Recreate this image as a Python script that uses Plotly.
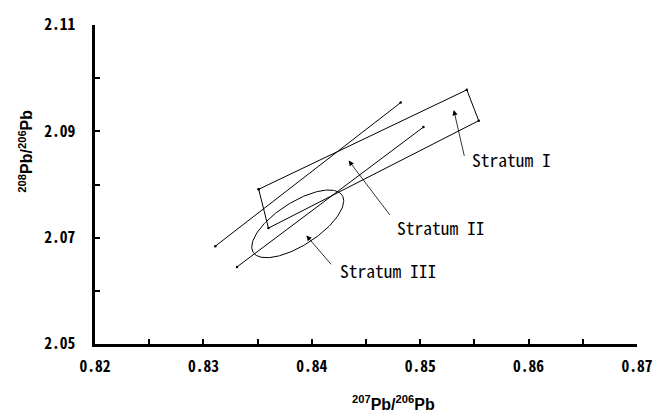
import numpy as np
import plotly.graph_objects as go

# ---- data ----
X_TICKS = [0.82, 0.83, 0.84, 0.85, 0.86, 0.87]
X_TICK_LABELS = ["0.82", "0.83", "0.84", "0.85", "0.86", "0.87"]
X_MINOR = [0.825, 0.835, 0.845, 0.855, 0.865]
Y_TICKS = [2.05, 2.07, 2.09, 2.11]
Y_TICK_LABELS = ["2.05", "2.07", "2.09", "2.11"]
Y_MINOR = [2.06, 2.08, 2.10]

LINE_A_X = [0.8311, 0.8482]
LINE_A_Y = [2.0684, 2.0954]
LINE_B_X = [0.8331, 0.8503]
LINE_B_Y = [2.0645, 2.0908]

RECT_X = [0.8351, 0.8543, 0.8554, 0.8360, 0.8351]
RECT_Y = [2.0791, 2.0978, 2.0920, 2.0718, 2.0791]

ELLIPSE_CENTER = [0.8387, 2.0726]
ELLIPSE_MAJOR = [0.00410, 0.00539]   # semi-major axis vector (data units)
ELLIPSE_MINOR = [-0.00109, 0.00339]  # semi-minor axis vector (data units)

LABELS = ["Stratum I", "Stratum II", "Stratum III"]
LABEL_X = [0.8546, 0.8477, 0.8424]
LABEL_Y = [2.0847, 2.0720, 2.0638]
ARROW_TIP_X = [0.8531, 0.8434, 0.8395]
ARROW_TIP_Y = [2.0940, 2.0845, 2.0704]
ARROW_TAIL_X = [0.8541, 0.8473, 0.8419]
ARROW_TAIL_Y = [2.0851, 2.0740, 2.0647]

# ---- figure ----
fig = go.Figure()
line_style = dict(color="black", width=1)

fig.add_trace(go.Scatter(x=LINE_A_X, y=LINE_A_Y, mode="lines+markers",
                         line=line_style, marker=dict(size=2.5, color="black")))
fig.add_trace(go.Scatter(x=LINE_B_X, y=LINE_B_Y, mode="lines+markers",
                         line=line_style, marker=dict(size=2.5, color="black")))
fig.add_trace(go.Scatter(x=RECT_X, y=RECT_Y, mode="lines+markers",
                         line=line_style, marker=dict(size=2.5, color="black")))

t = np.linspace(0, 2 * np.pi, 181)
ex = ELLIPSE_CENTER[0] + np.cos(t) * ELLIPSE_MAJOR[0] + np.sin(t) * ELLIPSE_MINOR[0]
ey = ELLIPSE_CENTER[1] + np.cos(t) * ELLIPSE_MAJOR[1] + np.sin(t) * ELLIPSE_MINOR[1]
fig.add_trace(go.Scatter(x=ex, y=ey, mode="lines", line=line_style))

mono = "Noto Sans Mono CJK JP, DejaVu Sans Mono, monospace"

annotations = []
for i, lab in enumerate(LABELS):
    annotations.append(dict(
        x=ARROW_TIP_X[i], y=ARROW_TIP_Y[i], xref="x", yref="y",
        ax=ARROW_TAIL_X[i], ay=ARROW_TAIL_Y[i], axref="x", ayref="y",
        text="", showarrow=True, arrowhead=2, arrowsize=1.3, arrowwidth=0.8,
        arrowcolor="black", standoff=0, startstandoff=0))
    annotations.append(dict(
        x=LABEL_X[i], y=LABEL_Y[i], xref="x", yref="y",
        text=lab, showarrow=False, xanchor="left", yanchor="middle",
        font=dict(family=mono, size=17.5, color="black")))

annotations.append(dict(
    x=(400 - 95) / 553, y=-0.185, xref="paper", yref="paper",
    text="<b><sup>207</sup>Pb/<sup>206</sup>Pb</b>", showarrow=False,
    xanchor="center", yanchor="middle",
    font=dict(family="Liberation Sans, Arial", size=16, color="black")))
annotations.append(dict(
    x=-0.128, y=0.605, xref="paper", yref="paper", textangle=-90,
    text="<b><sup>208</sup>Pb/<sup>206</sup>Pb</b>", showarrow=False,
    xanchor="center", yanchor="middle",
    font=dict(family="Liberation Sans, Arial", size=16, color="black")))

xtv = X_TICKS + X_MINOR
xtt = X_TICK_LABELS + [""] * len(X_MINOR)
ytv = Y_TICKS + Y_MINOR
ytt = Y_TICK_LABELS + [""] * len(Y_MINOR)

axis_common = dict(showgrid=False, zeroline=False, showline=True,
                   linecolor="black", linewidth=2.5, ticks="inside",
                   ticklen=5, tickwidth=2, tickcolor="black",
                   tickfont=dict(family=mono, size=15.5, color="black",
                                 weight="bold"))

fig.update_layout(
    width=665, height=417,
    margin=dict(l=95, r=17, t=17, b=73),
    paper_bgcolor="white", plot_bgcolor="white",
    showlegend=False,
    xaxis=dict(range=[0.82, 0.87], tickvals=xtv, ticktext=xtt,
               ticklabelstandoff=7, **axis_common),
    yaxis=dict(range=[2.05, 2.11], tickvals=ytv, ticktext=ytt,
               ticklabelstandoff=14, **axis_common),
    annotations=annotations,
)

fig.write_html("out.html")
